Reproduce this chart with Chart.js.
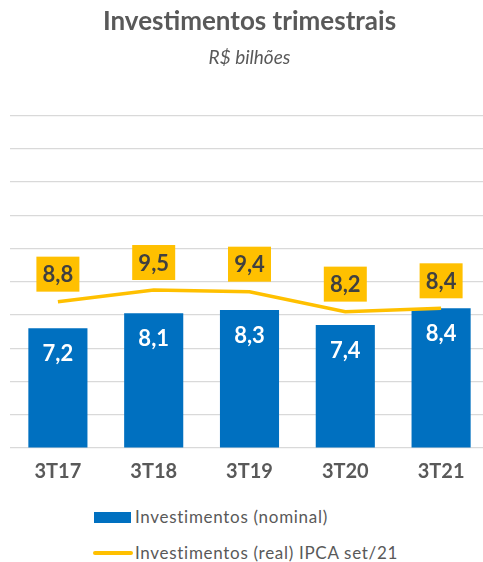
<!DOCTYPE html>
<html>
<head>
<meta charset="utf-8">
<script src="https://cdn.jsdelivr.net/npm/chart.js@4.4.1/dist/chart.umd.min.js"></script>
<style>
  body { margin: 0; width: 483px; height: 562px; overflow: hidden; background: #fff; font-family: Lato, "Open Sans", sans-serif; }
  #wrap { position: relative; width: 498px; height: 562px; }
  .leg { position: absolute; left: 93px; font-size: 17px; letter-spacing: 0.7px; color: #595959; white-space: nowrap; }
  .leg span.box { position: absolute; left: 1px; width: 37px; height: 11px; background: #0070C0; }
  .leg span.line { position: absolute; left: 0; width: 40px; height: 4px; border-radius: 2px; background: #FFC000; }
  .leg span.txt { position: absolute; left: 42px; line-height: 20px; }
</style>
</head>
<body>
<div id="wrap">
  <canvas id="grafico" width="498" height="500"></canvas>
  <div class="leg" style="top:507px"><span class="box" style="top:5px"></span><span class="txt" style="top:0">Investimentos (nominal)</span></div>
  <div class="leg" style="top:543px"><span class="line" style="top:8px"></span><span class="txt" style="top:0">Investimentos (real) IPCA set/21</span></div>
</div>
<script>
const categorias = ["3T17", "3T18", "3T19", "3T20", "3T21"];
const nominal = [7.2, 8.1, 8.3, 7.4, 8.4];
const real = [8.8, 9.5, 9.4, 8.2, 8.4];

const fmt = v => v.toFixed(1).replace(".", ",");

// rótulos: branco dentro da barra, caixa amarela acima da linha
const rotulos = {
    id: "rotulos",
    afterDatasetsDraw(chart) {
        const ctx = chart.ctx;
        ctx.save();
        ctx.font = "bold 22px Lato, 'Open Sans', sans-serif";
        ctx.textAlign = "center";
        ctx.textBaseline = "middle";

        chart.getDatasetMeta(0).data.forEach((el, i) => {
            ctx.fillStyle = "#ffffff";
            ctx.fillText(fmt(nominal[i]), el.x, el.y + 26);
        });

        chart.getDatasetMeta(1).data.forEach((el, i) => {
            const w = 43, h = 35;
            const top = el.y - 10 - h;
            ctx.fillStyle = "#FFC000";
            ctx.fillRect(el.x - w / 2, top, w, h);
            ctx.fillStyle = "#404040";
            ctx.fillText(fmt(real[i]), el.x, top + h / 2 + 1);
        });
        ctx.restore();
    },
};

new Chart(document.getElementById("grafico").getContext("2d"), {
    type: "bar",
    data: {
        labels: categorias,
        datasets: [
            {
                label: "Investimentos (nominal)",
                data: nominal,
                backgroundColor: "#0070C0",
                categoryPercentage: 1,
                barPercentage: 0.617,
                order: 2,
            },
            {
                type: "line",
                label: "Investimentos (real) IPCA set/21",
                data: real,
                borderColor: "#FFC000",
                borderWidth: 3.5,
                pointRadius: 0,
                tension: 0,
                order: 1,
            },
        ],
    },
    options: {
        responsive: false,
        animation: false,
        layout: { padding: { left: 10, right: 9, top: 0, bottom: 4 } },
        scales: {
            x: {
                grid: { display: false, drawTicks: false },
                border: { display: false },
                ticks: {
                    padding: 12,
                    color: "#595959",
                    font: { family: "Lato", size: 20, weight: "bold" },
                },
            },
            y: {
                min: 0,
                max: 20,
                ticks: { stepSize: 2, display: false },
                grid: { color: "#d9d9d9", lineWidth: 1.2, drawTicks: false },
                border: { display: false },
            },
        },
        plugins: {
            legend: { display: false },
            tooltip: { enabled: false },
            title: {
                display: true,
                text: "Investimentos trimestrais",
                color: "#595959",
                font: { family: "Lato", size: 26, weight: "bold" },
                padding: { top: 6.4, bottom: 6 },
            },
            subtitle: {
                display: true,
                text: "R$ bilhões",
                color: "#595959",
                font: { family: "Lato", size: 19, style: "italic" },
                padding: { top: 3, bottom: 46 },
            },
        },
    },
    plugins: [rotulos],
});
</script>
</body>
</html>
